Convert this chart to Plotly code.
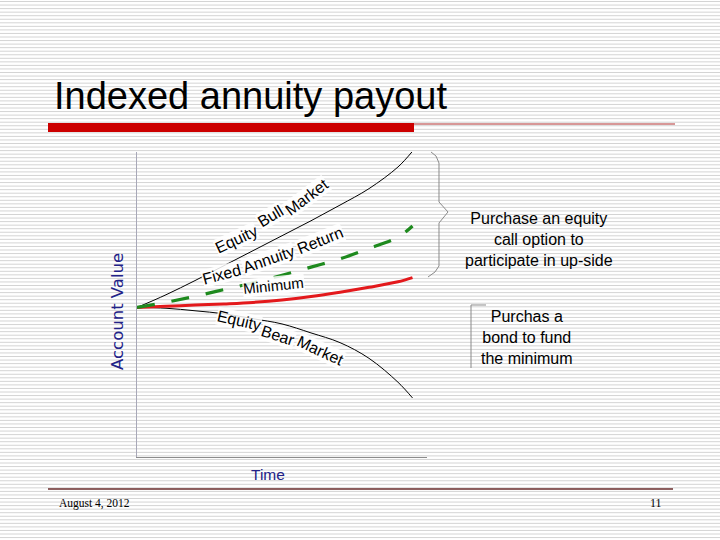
import plotly.graph_objects as go

W, H = 720, 540

# ---- data ----
time = [0, 1, 2, 3, 4, 5, 6, 7, 8, 9, 9.5]
bull_market = [100, 108.5, 118, 128, 138, 148, 158, 168.5, 179.5, 194, 204.5]
fixed_annuity = [100, 103.5, 107.5, 112, 116.5, 121.5, 127, 132.5, 139.5, 147, 154.5]
minimum = [100, 100.8, 101.6, 102.4, 103.4, 105, 107.3, 110.2, 113.5, 117.2, 120]
bear_market = [100, 99.5, 97.8, 95.8, 92.5, 89, 83, 76.5, 66, 50, 39.5]

title_text = "Indexed annuity payout"
x_title = "Time"
y_title = "Account Value"
call_text = "Purchase an equity<br>call option to<br>participate in up-side"
bond_text = "Purchas a<br>bond to fund<br>the minimum"
footer_date = "August 4, 2012"
footer_page = "11"


def px(x):
    return x / W


def py(y):
    return 1 - y / H


fig = go.Figure()
fig.add_trace(go.Scatter(x=time, y=bull_market, mode="lines",
                         line=dict(color="black", width=1, shape="spline"),
                         cliponaxis=False, hoverinfo="skip"))
fig.add_trace(go.Scatter(x=time, y=bear_market, mode="lines",
                         line=dict(color="black", width=1, shape="spline"),
                         cliponaxis=False, hoverinfo="skip"))
fig.add_trace(go.Scatter(x=time, y=minimum, mode="lines",
                         line=dict(color="#e3191c", width=3, shape="spline"),
                         cliponaxis=False, hoverinfo="skip"))
fig.add_trace(go.Scatter(x=time, y=fixed_annuity, mode="lines",
                         line=dict(color="#1e8a1e", width=3.2, dash="18px,17px", shape="spline"),
                         cliponaxis=False, hoverinfo="skip"))

shapes = []
# striped background
parts = []
y = 1.5
while y < H:
    parts.append(f"M0,{py(y):.5f} L1,{py(y):.5f}")
    y += 3.55
shapes.append(dict(type="path", xref="paper", yref="paper", path=" ".join(parts),
                   line=dict(color="#d4d4d4", width=1), layer="below"))
# title bar
shapes.append(dict(type="rect", xref="paper", yref="paper", x0=px(48), x1=px(414),
                   y0=py(132), y1=py(123), fillcolor="#cc0000", line=dict(width=0)))
shapes.append(dict(type="line", xref="paper", yref="paper", x0=px(414), x1=px(675),
                   y0=py(124), y1=py(124), line=dict(color="#b03030", width=1)))
# footer line
shapes.append(dict(type="line", xref="paper", yref="paper", x0=px(48), x1=px(673),
                   y0=py(489), y1=py(489), line=dict(color="#6a2c2c", width=1.5)))


def path_px(pts):
    s = "M" + " L".join(f"{px(a):.5f},{py(b):.5f}" for a, b in pts)
    return s


# brace
shapes.append(dict(type="path", xref="paper", yref="paper",
                   path=path_px([(431, 152), (436, 156), (439, 163), (439, 202), (448, 212),
                                 (439, 223), (439, 266), (435, 272), (428, 277)]),
                   line=dict(color="#8a8a8a", width=1)))
# bond bracket
shapes.append(dict(type="path", xref="paper", yref="paper",
                   path=path_px([(486, 305), (471, 305), (471, 368)]),
                   line=dict(color="#8a8a8a", width=1)))

ann = []


def label(text, x, y, angle, size=16, color="black", bg="rgba(255,255,255,0.85)"):
    ann.append(dict(text=text, x=px(x), y=py(y), xref="paper", yref="paper",
                    showarrow=False, textangle=angle, xanchor="center", yanchor="middle",
                    font=dict(family="Liberation Sans, Arial", size=size, color=color),
                    bgcolor=bg, borderpad=0))


label("Equity", 236, 239, -25)
label("Bull", 270, 216, -31)
label("Market", 306, 197, -37)
label("Fixed", 221, 274, -15)
label("Annuity", 268, 259, -19)
label("Return", 320, 240, -22)
label("Minimum", 273, 285, -6, size=15)
label("Equity", 239, 320, 13)
label("Bear", 278, 335, 18)
label("Market", 320, 350, 25)

# axis titles
ann.append(dict(text=y_title, x=px(118), y=py(312), xref="paper", yref="paper",
                showarrow=False, textangle=-90, xanchor="center", yanchor="middle",
                font=dict(family="DejaVu Sans, Verdana", size=16.5, color="#222288")))
ann.append(dict(text=x_title, x=px(268), y=py(474), xref="paper", yref="paper",
                showarrow=False, xanchor="center", yanchor="middle",
                font=dict(family="Liberation Sans, Arial", size=15.5, color="#222288")))
# right texts
ann.append(dict(text=call_text, x=px(539), y=py(239), xref="paper", yref="paper",
                showarrow=False, xanchor="center", yanchor="middle", align="center",
                font=dict(family="Liberation Sans, Arial", size=16, color="black")))
ann.append(dict(text=bond_text, x=px(527), y=py(337), xref="paper", yref="paper",
                showarrow=False, xanchor="center", yanchor="middle", align="center",
                font=dict(family="Liberation Sans, Arial", size=16, color="black")))
# title
ann.append(dict(text=title_text, x=px(52), y=py(96), xref="paper", yref="paper",
                showarrow=False, xanchor="left", yanchor="middle",
                font=dict(family="Liberation Sans, Arial", size=38, color="black")))
# footer
ann.append(dict(text=footer_date, x=px(57), y=py(503), xref="paper", yref="paper",
                showarrow=False, xanchor="left", yanchor="middle",
                font=dict(family="Liberation Serif, Times New Roman", size=11.5, color="black")))
ann.append(dict(text=footer_page, x=px(664), y=py(503), xref="paper", yref="paper",
                showarrow=False, xanchor="right", yanchor="middle",
                font=dict(family="Liberation Serif, Times New Roman", size=12, color="black")))

fig.update_layout(
    width=W, height=H, margin=dict(l=0, r=0, t=0, b=0),
    paper_bgcolor="white", plot_bgcolor="rgba(0,0,0,0)",
    showlegend=False, shapes=shapes, annotations=ann,
    xaxis=dict(domain=[px(137), px(427)], range=[0, 10], showgrid=False, zeroline=False,
               showticklabels=False, ticks="", showline=True, linecolor="#8c8c8c", linewidth=1),
    yaxis=dict(domain=[py(457), py(152)], range=[0, 204], showgrid=False, zeroline=False,
               showticklabels=False, ticks="", showline=True, linecolor="#a8a8b8", linewidth=1),
)

fig.write_html("out.html", config={"displayModeBar": False},
               post_script="document.body.style.margin='0';")
